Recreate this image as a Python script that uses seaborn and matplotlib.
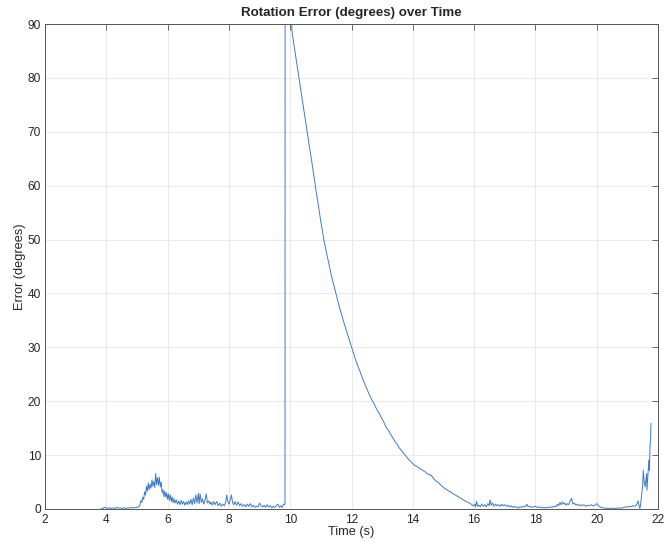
import matplotlib
matplotlib.use("Agg")
import matplotlib.pyplot as plt
import seaborn as sns
import pandas as pd

# ---------------------------------------------------------
# Data (time in s, error in degrees)
# ---------------------------------------------------------
# quiet start, then the wobble around 5-6 s and the small noise up to ~9.8 s
time_early = [3.83, 3.88, 3.95, 4.0, 4.05, 4.1, 4.15, 4.22, 4.28, 4.35, 4.4, 4.46, 4.52, 4.58,
              4.64, 4.7, 4.76, 4.82, 4.88, 4.94, 5.0, 5.06, 5.10, 5.13, 5.16, 5.19, 5.22, 5.25,
              5.28, 5.31, 5.34, 5.37, 5.40, 5.43, 5.46, 5.49, 5.52, 5.55, 5.58, 5.61, 5.64, 5.67,
              5.70, 5.73, 5.76, 5.79, 5.82, 5.85, 5.88, 5.91, 5.94, 5.97, 6.0, 6.03, 6.06, 6.09,
              6.12, 6.15, 6.18, 6.21, 6.24, 6.28, 6.32, 6.36, 6.40, 6.44, 6.48, 6.52, 6.56, 6.60,
              6.64, 6.68, 6.72, 6.76, 6.80, 6.84, 6.88, 6.92, 6.96, 7.0, 7.03, 7.06, 7.10, 7.14,
              7.18, 7.22, 7.26, 7.30, 7.34, 7.38, 7.42, 7.46, 7.50, 7.55, 7.60, 7.65, 7.70, 7.75,
              7.80, 7.85, 7.90, 7.93, 7.96, 8.0, 8.04, 8.08, 8.12, 8.16, 8.20, 8.25, 8.30, 8.35,
              8.40, 8.45, 8.50, 8.55, 8.60, 8.65, 8.70, 8.75, 8.80, 8.85, 8.90, 8.95, 9.0, 9.05,
              9.10, 9.15, 9.20, 9.25, 9.30, 9.35, 9.40, 9.45, 9.50, 9.55, 9.60, 9.65, 9.70, 9.74,
              9.78, 9.81, 9.83]
err_early = [0.15, 0.1, 0.3, 0.2, 0.1, 0.25, 0.1, 0.2, 0.1, 0.3, 0.15, 0.2, 0.1, 0.25,
             0.1, 0.2, 0.15, 0.3, 0.2, 0.25, 0.3, 0.4, 0.8, 1.6, 1.2, 2.2, 1.8, 3.2,
             2.6, 4.2, 3.3, 4.8, 3.6, 4.6, 3.9, 5.4, 4.2, 5.1, 4.0, 6.6, 4.5, 5.8,
             4.4, 5.9, 4.1, 5.0, 3.0, 3.6, 2.3, 3.3, 2.2, 3.0, 1.8, 2.8, 1.6, 2.6,
             1.4, 2.2, 1.2, 1.9, 1.1, 1.7, 0.9, 1.5, 0.8, 1.6, 0.9, 1.4, 0.7, 1.3,
             0.8, 1.5, 0.9, 1.8, 0.8, 2.0, 1.0, 2.6, 1.1, 2.9, 1.0, 2.8, 1.2, 1.9,
             0.9, 1.6, 2.8, 1.1, 1.5, 0.9, 1.3, 0.7, 1.4, 0.8, 1.4, 0.6, 1.1, 0.5,
             0.9, 0.6, 1.4, 2.6, 1.5, 0.9, 1.6, 2.6, 1.2, 0.8, 1.4, 0.7, 1.3, 0.6,
             1.0, 0.5, 0.8, 0.4, 0.9, 0.5, 1.0, 0.4, 0.7, 0.3, 0.5, 0.4, 1.1, 0.6,
             0.4, 0.7, 0.3, 0.8, 0.4, 0.6, 0.2, 0.5, 0.3, 0.7, 0.9, 0.3, 0.6, 0.3,
             0.9, 0.8, 1.0]

# jump off the top of the axes and the long decay back down
time_decay = [9.835, 9.99, 10.03, 10.06, 10.12, 10.2, 10.28, 10.36, 10.42, 10.48, 10.55, 10.62,
              10.7, 10.78, 10.86, 10.92, 10.97, 11.04, 11.1, 11.16, 11.2, 11.27, 11.34, 11.41,
              11.48, 11.54, 11.6, 11.67, 11.74, 11.8, 11.84, 11.9, 11.96, 12.0, 12.06, 12.12,
              12.18, 12.22, 12.28, 12.34, 12.4, 12.46, 12.5, 12.56, 12.6, 12.66, 12.72, 12.77,
              12.83, 12.9, 12.96, 13.04, 13.1, 13.16, 13.22, 13.28, 13.36, 13.42, 13.48, 13.55,
              13.62, 13.69, 13.76, 13.82, 13.88, 13.95, 14.02, 14.08, 14.14, 14.2, 14.27, 14.34,
              14.4, 14.48, 14.55, 14.62, 14.7, 14.78, 14.85, 14.92, 15.0, 15.08, 15.15, 15.22,
              15.3, 15.38, 15.48, 15.55, 15.62, 15.7, 15.78, 15.87, 15.92, 15.97, 16.02, 16.05,
              16.08, 16.12]
err_decay = [150.0, 150.0, 92.0, 88.5, 86.2, 83.2, 80.2, 77.2, 75.0, 72.8, 70.2, 67.5,
             64.6, 61.5, 58.4, 56.3, 54.4, 51.9, 49.9, 48.2, 47.1, 45.3, 43.4, 41.8,
             40.2, 38.9, 37.6, 36.2, 34.8, 33.7, 33.0, 31.9, 30.7, 30.0, 29.0, 27.9,
             27.0, 26.3, 25.5, 24.5, 23.7, 22.8, 22.3, 21.5, 21.0, 20.3, 19.7, 19.1,
             18.4, 17.8, 17.1, 16.3, 15.5, 14.9, 14.5, 13.8, 13.1, 12.5, 12.1, 11.4,
             10.9, 10.4, 9.9, 9.5, 9.1, 8.7, 8.3, 8.0, 7.9, 7.6, 7.4, 7.1,
             6.9, 6.5, 6.4, 6.1, 5.5, 5.1, 4.8, 4.4, 4.0, 3.7, 3.4, 3.2,
             2.9, 2.6, 2.3, 2.0, 1.8, 1.5, 1.3, 1.05, 0.8, 0.6, 0.9, 0.4,
             1.4, 0.5]

# settled noise and the final burst near 21.5 s
time_late = [16.16, 16.2, 16.25, 16.3, 16.35, 16.4, 16.45, 16.49, 16.52, 16.56, 16.6, 16.65,
             16.7, 16.75, 16.8, 16.85, 16.9, 16.95, 17.0, 17.05, 17.1, 17.15, 17.2, 17.25,
             17.3, 17.35, 17.4, 17.45, 17.5, 17.55, 17.6, 17.66, 17.72, 17.76, 17.82, 17.88,
             17.94, 18.0, 18.06, 18.12, 18.18, 18.24, 18.3, 18.36, 18.42, 18.48, 18.54, 18.6,
             18.66, 18.72, 18.76, 18.8, 18.84, 18.88, 18.92, 18.96, 19.0, 19.04, 19.08, 19.13,
             19.18, 19.22, 19.27, 19.32, 19.37, 19.42, 19.47, 19.52, 19.58, 19.64, 19.7, 19.76,
             19.82, 19.88, 19.94, 20.0, 20.05, 20.1, 20.15, 20.2, 20.3, 20.4, 20.5, 20.6,
             20.7, 20.8, 20.88, 20.94, 21.0, 21.06, 21.12, 21.18, 21.24, 21.3, 21.35, 21.38,
             21.41, 21.44, 21.47, 21.5, 21.52, 21.55, 21.58, 21.61, 21.63, 21.64, 21.66, 21.68,
             21.7, 21.72, 21.74, 21.76, 21.77]
err_late = [0.7, 0.4, 0.9, 0.5, 0.8, 0.4, 1.0, 0.6, 1.7, 0.7, 1.1, 0.5,
            0.9, 0.6, 0.8, 0.5, 0.9, 0.6, 0.8, 0.5, 0.7, 0.4, 0.6, 0.3,
            0.5, 0.3, 0.4, 0.2, 0.4, 0.3, 0.5, 0.4, 0.9, 0.4, 0.5, 0.3,
            0.4, 0.5, 0.3, 0.4, 0.2, 0.3, 0.2, 0.3, 0.2, 0.4, 0.3, 0.5,
            0.4, 0.9, 0.6, 1.2, 0.8, 1.3, 0.9, 1.1, 0.7, 1.0, 0.8, 1.4,
            2.0, 0.9, 1.1, 0.7, 0.9, 0.6, 0.8, 0.6, 0.8, 0.5, 0.7, 0.6,
            0.8, 0.6, 0.7, 1.0, 0.7, 0.4, 0.3, 0.2, 0.15, 0.1, 0.15, 0.1,
            0.2, 0.15, 0.3, 0.4, 0.35, 0.5, 0.4, 0.6, 0.5, 0.8, 1.5, 0.6,
            0.1, 1.2, 2.9, 4.5, 7.2, 5.0, 4.1, 5.5, 6.6, 3.5, 5.2, 7.0,
            9.1, 7.2, 11.5, 13.4, 15.9]

x_ticks = [2, 4, 6, 8, 10, 12, 14, 16, 18, 20, 22]
y_ticks = [0, 10, 20, 30, 40, 50, 60, 70, 80, 90]

df = pd.DataFrame({
    'time': time_early + time_decay + time_late,
    'error': err_early + err_decay + err_late,
})

# MATLAB-ish look
sns.set_style("white")
plt.rcParams['font.family'] = ['Liberation Sans', 'DejaVu Sans']

fig = plt.figure(figsize=(6.67, 5.42), dpi=100)
ax = fig.add_axes([0.0675, 0.0609, 0.919, 0.8948])

sns.lineplot(data=df, x='time', y='error', sort=False, estimator=None,
             color='#3d7bc9', linewidth=0.7, ax=ax)

ax.set_xlim(2, 22)
ax.set_ylim(0, 90)
ax.set_xticks(x_ticks)
ax.set_yticks(y_ticks)
ax.grid(True, color='#e5e5e5', linewidth=0.6)
ax.set_axisbelow(True)

for side in ['left', 'bottom', 'top', 'right']:
    ax.spines[side].set_visible(True)
    ax.spines[side].set_color('#555555')
    ax.spines[side].set_linewidth(0.7)

ax.tick_params(direction='in', top=True, right=True, length=4, width=0.6,
               color='#555555', labelcolor='#262626', labelsize=8.6)
ax.tick_params(axis='x', pad=3.5)
ax.tick_params(axis='y', pad=3)

ax.set_title('Rotation Error (degrees) over Time', fontsize=9.6, fontweight='bold', pad=6)
ax.set_xlabel('Time (s)', fontsize=9.2, color='#262626', labelpad=0)
ax.set_ylabel('Error (degrees)', fontsize=9.2, color='#262626', labelpad=1)

fig.savefig('out.png', dpi=100)
